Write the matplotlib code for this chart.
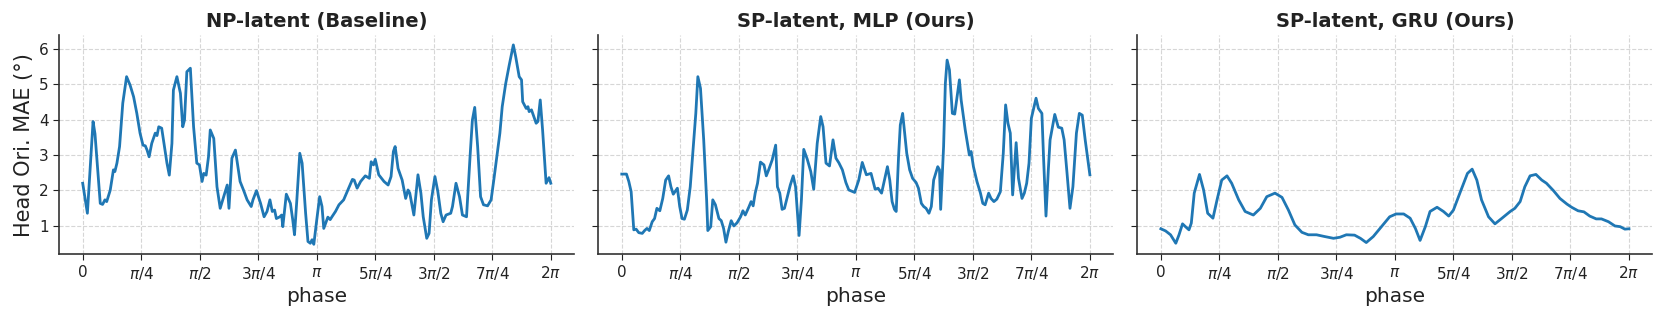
import matplotlib
matplotlib.use("Agg")
import matplotlib.pyplot as plt
import numpy as np

# phase given in multiples of pi/4, MAE in degrees
np_phase = [0, 0.08, 0.177, 0.21, 0.30, 0.34, 0.38, 0.41, 0.47, 0.525, 0.55, 0.585, 0.63, 0.685,
            0.75, 0.81, 0.87, 0.925, 0.98, 1.03, 1.07, 1.10, 1.135, 1.18, 1.24, 1.27, 1.30, 1.35,
            1.38, 1.44, 1.48, 1.525, 1.55, 1.61, 1.67, 1.71, 1.74, 1.78, 1.84, 1.895, 1.95, 1.995,
            2.04, 2.07, 2.11, 2.15, 2.18, 2.24, 2.295, 2.35, 2.41, 2.47, 2.50, 2.55, 2.61, 2.69,
            2.75, 2.81, 2.88, 2.91, 2.97, 3.04, 3.1, 3.15, 3.2, 3.24, 3.28, 3.31, 3.37, 3.40, 3.42,
            3.48, 3.55, 3.59, 3.62, 3.66, 3.71, 3.75, 3.81, 3.85, 3.89, 3.92, 3.95, 4.0, 4.05,
            4.09, 4.12, 4.19, 4.23, 4.26, 4.32, 4.38, 4.46, 4.52, 4.61, 4.64, 4.69, 4.75, 4.83,
            4.9, 4.93, 4.97, 5.0, 5.06, 5.15, 5.22, 5.27, 5.31, 5.34, 5.39, 5.46, 5.52, 5.56, 5.59,
            5.66, 5.73, 5.78, 5.82, 5.88, 5.92, 5.96, 6.02, 6.07, 6.12, 6.16, 6.21, 6.29, 6.32,
            6.38, 6.44, 6.49, 6.56, 6.62, 6.66, 6.70, 6.75, 6.80, 6.85, 6.92, 6.98, 7.03, 7.13,
            7.17, 7.23, 7.29, 7.36, 7.40, 7.46, 7.50, 7.52, 7.58, 7.61, 7.63, 7.67, 7.75, 7.78,
            7.82, 7.86, 7.92, 7.97, 8.0]
np_mae = [2.2, 1.35, 3.95, 3.6, 1.63, 1.6, 1.73, 1.68, 2.0, 2.58, 2.53, 2.77, 3.24, 4.47,
          5.22, 4.98, 4.65, 4.18, 3.62, 3.28, 3.26, 3.14, 2.95, 3.33, 3.62, 3.55, 3.8, 3.76,
          3.43, 2.77, 2.43, 3.33, 4.84, 5.22, 4.75, 3.8, 3.99, 5.36, 5.46, 3.8, 2.77, 2.72,
          2.25, 2.48, 2.43, 2.95, 3.71, 3.47, 2.1, 1.49, 1.82, 2.15, 1.49, 2.91, 3.14, 2.25,
          2.0, 1.73, 1.54, 1.73, 1.99, 1.63, 1.25, 1.4, 1.73, 1.4, 1.44, 1.2, 1.25, 1.3, 0.97,
          1.89, 1.63, 1.16, 0.74, 1.73, 3.05, 2.77, 1.35, 0.55, 0.5, 0.6, 0.47, 1.16, 1.82,
          1.54, 0.92, 1.24, 1.17, 1.25, 1.4, 1.59, 1.73, 1.96, 2.31, 2.29, 2.06, 2.25, 2.41,
          2.34, 2.81, 2.72, 2.88, 2.44, 2.25, 2.15, 2.39, 3.1, 3.24, 2.62, 2.29, 1.77, 2.01, 1.92,
          1.3, 2.44, 1.92, 1.25, 0.64, 0.78, 1.73, 2.39, 1.96, 1.35, 1.11, 1.3, 1.35, 1.54,
          2.2, 1.82, 1.3, 1.25, 2.95, 3.99, 4.35, 3.24, 1.82, 1.59, 1.56, 1.73, 2.34, 3.62,
          4.37, 5.03, 5.55, 6.12, 5.79, 5.22, 5.13, 4.51, 4.32, 4.37, 4.23, 4.28, 3.9, 3.95,
          4.56, 3.71, 2.2, 2.36, 2.2]

mlp_phase = [0, 0.08, 0.12, 0.16, 0.205, 0.245, 0.29, 0.35, 0.39, 0.43, 0.47, 0.52, 0.56, 0.6,
             0.65, 0.70, 0.75, 0.80, 0.84, 0.88, 0.95, 0.99, 1.03, 1.07, 1.12, 1.17, 1.23, 1.265,
             1.30, 1.345, 1.40, 1.45, 1.47, 1.52, 1.555, 1.60, 1.66, 1.70, 1.74, 1.78, 1.82, 1.87,
             1.915, 1.97, 2.03, 2.07, 2.11, 2.17, 2.21, 2.245, 2.28, 2.32, 2.37, 2.43, 2.47, 2.51,
             2.57, 2.63, 2.66, 2.70, 2.74, 2.78, 2.83, 2.88, 2.93, 2.97, 3.03, 3.07, 3.11, 3.17,
             3.23, 3.28, 3.34, 3.40, 3.44, 3.49, 3.55, 3.61, 3.66, 3.71, 3.77, 3.83, 3.88, 3.98,
             4.05, 4.11, 4.18, 4.26, 4.33, 4.38, 4.44, 4.49, 4.54, 4.58, 4.62, 4.66, 4.69, 4.73,
             4.76, 4.80, 4.87, 4.92, 4.97, 5.03, 5.07, 5.12, 5.16, 5.20, 5.25, 5.29, 5.33, 5.40,
             5.43, 5.45, 5.50, 5.53, 5.56, 5.60, 5.65, 5.69, 5.73, 5.77, 5.80, 5.87, 5.94, 5.97,
             6.01, 6.07, 6.13, 6.17, 6.21, 6.27, 6.31, 6.36, 6.41, 6.47, 6.52, 6.56, 6.60, 6.64,
             6.68, 6.74, 6.78, 6.84, 6.88, 6.92, 6.96, 7.0, 7.08, 7.12, 7.18, 7.21, 7.25, 7.29,
             7.32, 7.40, 7.46, 7.52, 7.56, 7.61, 7.66, 7.71, 7.77, 7.82, 7.87, 7.92, 8.0]
mlp_mae = [2.46, 2.46, 2.25, 1.96, 0.88, 0.9, 0.8, 0.78, 0.86, 0.92, 0.86, 1.11, 1.2, 1.49,
           1.42, 1.77, 2.29, 2.41, 2.1, 1.89, 2.06, 1.54, 1.2, 1.18, 1.44, 2.1, 3.43, 4.18,
           5.22, 4.89, 3.43, 1.73, 0.86, 0.97, 1.73, 1.59, 1.2, 1.14, 0.92, 0.53, 0.83, 1.14,
           0.99, 1.08, 1.25, 1.42, 1.3, 1.52, 1.68, 1.56, 1.92, 2.2, 2.8, 2.72, 2.41, 2.58,
           2.86, 3.28, 2.1, 1.92, 1.46, 1.49, 1.82, 2.15, 2.41, 2.1, 0.72, 1.73, 3.16, 2.88,
           2.53, 2.03, 3.33, 4.09, 3.8, 2.77, 2.69, 3.43, 2.91, 2.78, 2.58, 2.22, 2.01, 1.94,
           2.29, 2.79, 2.44, 2.48, 2.03, 2.06, 1.92, 2.29, 2.67, 2.29, 1.68, 1.46, 1.4, 2.95,
           3.85, 4.18, 3.05, 2.58, 2.34, 2.22, 2.06, 1.63, 1.54, 1.49, 1.35, 1.54, 2.29, 2.67,
           2.58, 1.46, 3.24, 5.03, 5.69, 5.41, 4.18, 4.16, 4.65, 5.13, 4.56, 3.71, 3.0, 3.1,
           2.67, 2.25, 1.92, 1.63, 1.59, 1.92, 1.77, 1.68, 1.75, 1.96, 3.05, 4.42, 3.9, 3.62,
           1.87, 3.35, 2.34, 1.77, 1.92, 2.2, 2.77, 4.04, 4.61, 4.32, 4.18, 2.86, 1.27, 2.58,
           3.43, 4.15, 3.79, 3.76, 3.43, 2.48, 1.49, 2.1, 3.62, 4.18, 4.13, 3.43, 2.44]

gru_phase = [0, 0.08, 0.165, 0.255, 0.31, 0.37, 0.42, 0.48, 0.52, 0.57, 0.66, 0.73, 0.80, 0.89,
             0.96, 1.04, 1.13, 1.21, 1.33, 1.44, 1.58, 1.70, 1.81, 1.95, 2.07, 2.18, 2.29, 2.41,
             2.52, 2.66, 2.80, 2.95, 3.06, 3.17, 3.31, 3.41, 3.51, 3.63, 3.77, 3.91, 4.02, 4.15,
             4.26, 4.35, 4.43, 4.52, 4.60, 4.72, 4.83, 4.92, 5.0, 5.11, 5.24, 5.32, 5.40, 5.48,
             5.60, 5.71, 5.83, 5.97, 6.05, 6.14, 6.22, 6.31, 6.41, 6.51, 6.59, 6.71, 6.82, 6.94,
             7.02, 7.13, 7.23, 7.33, 7.44, 7.53, 7.65, 7.76, 7.85, 7.93, 8.0]
gru_mae = [0.91, 0.85, 0.74, 0.5, 0.74, 1.05, 0.97, 0.88, 1.07, 1.92, 2.45, 2.01, 1.35, 1.21,
           1.73, 2.29, 2.41, 2.2, 1.73, 1.4, 1.3, 1.49, 1.82, 1.92, 1.8, 1.44, 1.02, 0.81,
           0.74, 0.74, 0.69, 0.64, 0.67, 0.74, 0.73, 0.64, 0.52, 0.69, 0.97, 1.25, 1.33, 1.33,
           1.21, 0.92, 0.58, 0.97, 1.4, 1.52, 1.4, 1.27, 1.44, 1.92, 2.48, 2.6, 2.29, 1.73,
           1.25, 1.05, 1.21, 1.4, 1.49, 1.68, 2.1, 2.41, 2.45, 2.29, 2.2, 1.99, 1.77, 1.61,
           1.52, 1.42, 1.39, 1.27, 1.19, 1.19, 1.11, 0.99, 0.97, 0.9, 0.91]

titles = ['NP-latent (Baseline)', 'SP-latent, MLP (Ours)', 'SP-latent, GRU (Ours)']
tick_labels = ['0', r'$\pi/4$', r'$\pi/2$', r'$3\pi/4$', r'$\pi$',
               r'$5\pi/4$', r'$3\pi/2$', r'$7\pi/4$', r'$2\pi$']

series = [(np_phase, np_mae), (mlp_phase, mlp_mae), (gru_phase, gru_mae)]

fig, axes = plt.subplots(1, 3, figsize=(16.61, 3.12), dpi=100, sharey=True)
fig.subplots_adjust(left=0.0357, right=0.9948, top=0.888, bottom=0.185, wspace=0.047)

for ax, title, (ph, mae) in zip(axes, titles, series):
    x = np.array(ph) * np.pi / 4
    ax.plot(x, mae, color='#1f77b4', linewidth=2)
    ax.set_title(title, fontsize=14, fontweight='bold', color='#222222')
    ax.set_xticks(np.arange(9) * np.pi / 4)
    ax.set_xticklabels(tick_labels)
    ax.set_xlabel('phase', fontsize=14.5, color='#222222', labelpad=4)
    ax.grid(True, linestyle='--', color='#cccccc', linewidth=0.8, alpha=0.8)
    ax.spines['top'].set_visible(False)
    ax.spines['right'].set_visible(False)
    for s in ('left', 'bottom'):
        ax.spines[s].set_color('#333333')
        ax.spines[s].set_linewidth(1.2)
    ax.tick_params(labelsize=11, colors='#222222', length=4)
    ax.set_yticks([1, 2, 3, 4, 5, 6])

axes[0].set_ylabel('Head Ori. MAE (°)', fontsize=15, color='#222222')

fig.savefig('out.png', dpi=100)
